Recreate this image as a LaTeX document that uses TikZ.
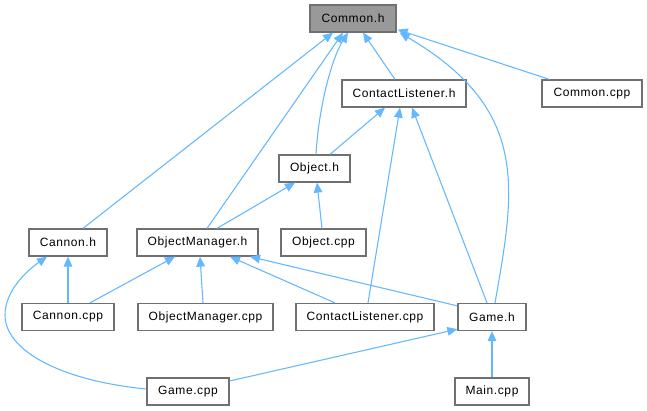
\documentclass[tikz,border=0pt]{standalone}
\usepackage{fontspec}
\setmainfont{Liberation Sans}[LetterSpace=5]
\usetikzlibrary{arrows.meta,calc}
\definecolor{edgeblue}{HTML}{63B8FF}
\definecolor{boxborder}{HTML}{707070}
\definecolor{focusfill}{HTML}{999999}
\begin{document}
\begin{tikzpicture}[x=0.75pt,y=-0.75pt,
  box/.style={draw=boxborder, line width=0.95pt, fill=white, inner sep=0pt,
    minimum height=27*0.75pt, font=\fontsize{9}{10}\selectfont, text=black},
  focus/.style={box, fill=focusfill},
  dep/.style={draw=edgeblue, line width=0.8pt,
    -{Triangle[length=7.5pt,width=6.5pt]}}]
\useasboundingbox (0,0) rectangle (647,411);
\fill[white] (0,0) rectangle (647,411);

\node[focus, minimum width=86*0.75pt] (common) at (353,18.5) {Common.h};
\node[box, minimum width=124*0.75pt] (clh) at (404,93.5) {ContactListener.h};
\node[box, minimum width=100*0.75pt] (ccpp) at (592,93.5) {Common.cpp};
\node[box, minimum width=71*0.75pt] (objh) at (314.5,168.5) {Object.h};
\node[box, minimum width=78*0.75pt] (cannonh) at (68,242.5) {Cannon.h};
\node[box, minimum width=121*0.75pt] (omh) at (197.5,242.5) {ObjectManager.h};
\node[box, minimum width=85*0.75pt] (objcpp) at (323.5,242.5) {Object.cpp};
\node[box, minimum width=92*0.75pt] (cannoncpp) at (68,317) {Cannon.cpp};
\node[box, minimum width=135*0.75pt] (omcpp) at (205.5,317) {ObjectManager.cpp};
\node[box, minimum width=138*0.75pt] (clcpp) at (365,317) {ContactListener.cpp};
\node[box, minimum width=68*0.75pt] (gameh) at (492,317) {Game.h};
\node[box, minimum width=82*0.75pt] (gamecpp) at (188,391.5) {Game.cpp};
\node[box, minimum width=74*0.75pt] (maincpp) at (492,391.5) {Main.cpp};

% to Common.h
\draw[dep] ($(cannonh.north)+(15,0)$) -- ($(common.south)+(-20,0)$);
\draw[dep] ($(omh.north)+(9.5,0)$) -- ($(common.south)+(-10,0)$);
\draw[dep] ($(objh.north)+(1.5,0)$) .. controls ($(objh.north)+(4,-45)$) and ($(common.south)+(-22,27)$) .. ($(common.south)+(-5,0)$);
\draw[dep] ($(clh.north)+(-9,0)$) -- ($(common.south)+(10,0)$);
\draw[dep] ($(ccpp.north west)+(8,0)$) -- ($(common.south east)+(1,-3)$);
\draw[dep] ($(gameh.north)+(3,0)$) .. controls ($(gameh.north)+(23,-114)$) and ($(common.south east)+(134,77)$) .. ($(common.south east)+(3,0)$);

% to ContactListener.h
\draw[dep] ($(objh.north)+(15.5,0)$) -- ($(clh.south)+(-19,0)$);
\draw[dep] ($(clcpp.north)+(3,0)$) -- ($(clh.south)+(-4,0)$);
\draw[dep] ($(gameh.north)+(-5,0)$) -- ($(clh.south)+(8,0)$);

% to Object.h
\draw[dep] ($(omh.north)+(19.5,0)$) -- ($(objh.south)+(-19.5,0)$);
\draw[dep] ($(objcpp.north)+(-1.5,0)$) -- ($(objh.south)+(2.5,0)$);

% to Cannon.h
\draw[dep] (cannoncpp.north) -- (cannonh.south);
\draw[dep] ($(gamecpp.west)+(0,-2.5)$) .. controls ($(gamecpp.west)+(-87,-11)$) and (5,350) .. (5,315)
  .. controls (5,292) and (25,272) .. ($(cannonh.south)+(-21,0)$);

% to ObjectManager.h
\draw[dep] ($(cannoncpp.north)+(22,0)$) -- ($(omh.south)+(-22.5,0)$);
\draw[dep] ($(omcpp.north)+(-2.5,0)$) -- ($(omh.south)+(2.5,0)$);
\draw[dep] ($(clcpp.north)+(-30,0)$) -- ($(omh.south)+(32.5,0)$);
\draw[dep] ($(gameh.north west)+(0,3)$) -- ($(omh.south)+(52.5,0)$);

% to Game.h
\draw[dep] ($(gamecpp.east)+(0,-10.5)$) -- ($(gameh.south west)+(0,-2)$);
\draw[dep] (maincpp.north) -- (gameh.south);
\end{tikzpicture}
\end{document}
